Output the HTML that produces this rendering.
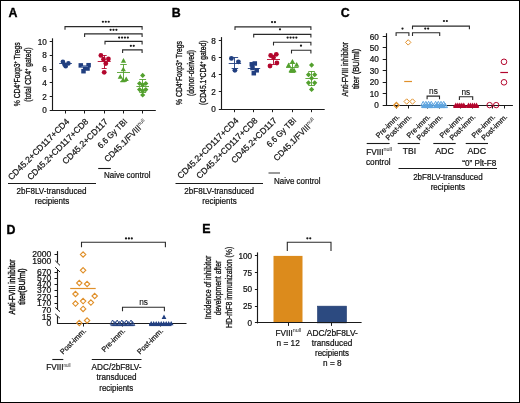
<!DOCTYPE html>
<html><head><meta charset="utf-8"><style>
html,body{margin:0;padding:0;background:#fff;}
#fig{position:relative;width:520px;height:403px;overflow:hidden;background:#fff;}
#fig svg{position:absolute;left:0;top:0;font-family:"Liberation Sans", sans-serif;will-change:transform;}
#border{position:absolute;left:0;top:0;width:518px;height:401px;border:1px solid #000;}
</style></head><body>
<div id="fig">
<svg width="520" height="403" viewBox="0 0 520 403">
<text x="8.40" y="16.60" font-size="12.4" text-anchor="start" font-weight="bold" fill="#000" stroke="#000" stroke-width="0.35">A</text>
<text x="171.80" y="17.00" font-size="12.4" text-anchor="start" font-weight="bold" fill="#000" stroke="#000" stroke-width="0.35">B</text>
<text x="340.80" y="17.20" font-size="12.4" text-anchor="start" font-weight="bold" fill="#000" stroke="#000" stroke-width="0.35">C</text>
<text x="6.60" y="233.60" font-size="12.4" text-anchor="start" font-weight="bold" fill="#000" stroke="#000" stroke-width="0.35">D</text>
<text x="202.30" y="233.20" font-size="12.4" text-anchor="start" font-weight="bold" fill="#000" stroke="#000" stroke-width="0.35">E</text>
<line x1="52.50" y1="38.30" x2="52.50" y2="110.80" stroke="#1a1a1a" stroke-width="1.15"/>
<line x1="52.20" y1="110.50" x2="155.80" y2="110.50" stroke="#1a1a1a" stroke-width="1.15"/>
<line x1="49.70" y1="110.50" x2="52.70" y2="110.50" stroke="#1a1a1a" stroke-width="1"/>
<text x="46.80" y="113.30" font-size="8.2" text-anchor="end" font-weight="normal" fill="#111" stroke="#111" stroke-width="0.22">0</text>
<line x1="49.70" y1="96.50" x2="52.70" y2="96.50" stroke="#1a1a1a" stroke-width="1"/>
<text x="46.80" y="99.54" font-size="8.2" text-anchor="end" font-weight="normal" fill="#111" stroke="#111" stroke-width="0.22">2</text>
<line x1="49.70" y1="82.50" x2="52.70" y2="82.50" stroke="#1a1a1a" stroke-width="1"/>
<text x="46.80" y="85.78" font-size="8.2" text-anchor="end" font-weight="normal" fill="#111" stroke="#111" stroke-width="0.22">4</text>
<line x1="49.70" y1="69.50" x2="52.70" y2="69.50" stroke="#1a1a1a" stroke-width="1"/>
<text x="46.80" y="72.02" font-size="8.2" text-anchor="end" font-weight="normal" fill="#111" stroke="#111" stroke-width="0.22">6</text>
<line x1="49.70" y1="55.50" x2="52.70" y2="55.50" stroke="#1a1a1a" stroke-width="1"/>
<text x="46.80" y="58.26" font-size="8.2" text-anchor="end" font-weight="normal" fill="#111" stroke="#111" stroke-width="0.22">8</text>
<line x1="49.70" y1="41.50" x2="52.70" y2="41.50" stroke="#1a1a1a" stroke-width="1"/>
<text x="46.80" y="44.50" font-size="8.2" text-anchor="end" font-weight="normal" fill="#111" stroke="#111" stroke-width="0.22">10</text>
<line x1="65.50" y1="110.30" x2="65.50" y2="113.50" stroke="#1a1a1a" stroke-width="1"/>
<line x1="84.50" y1="110.30" x2="84.50" y2="113.50" stroke="#1a1a1a" stroke-width="1"/>
<line x1="104.50" y1="110.30" x2="104.50" y2="113.50" stroke="#1a1a1a" stroke-width="1"/>
<line x1="123.50" y1="110.30" x2="123.50" y2="113.50" stroke="#1a1a1a" stroke-width="1"/>
<line x1="142.50" y1="110.30" x2="142.50" y2="113.50" stroke="#1a1a1a" stroke-width="1"/>
<text transform="translate(19.60,74.30) rotate(-90)" font-size="9.4" text-anchor="middle" font-weight="normal" fill="#111" textLength="63.8" lengthAdjust="spacingAndGlyphs" stroke="#111" stroke-width="0.32">% CD4<tspan font-size="5.5" dy="-3">+</tspan><tspan dy="3">Foxp3</tspan><tspan font-size="5.5" dy="-3">+</tspan><tspan dy="3"> Tregs</tspan></text>
<text transform="translate(30.60,74.60) rotate(-90)" font-size="9.4" text-anchor="middle" font-weight="normal" fill="#111" textLength="54.3" lengthAdjust="spacingAndGlyphs" stroke="#111" stroke-width="0.32">(total CD4<tspan font-size="5.5" dy="-3">+</tspan><tspan dy="3"> gated)</tspan></text>
<path d="M65.00,29.80V26.60H142.10V29.80" fill="none" stroke="#2a2a2a" stroke-width="1.1"/>
<circle cx="102.90" cy="21.75" r="1.12" fill="#1a1a1a"/>
<circle cx="105.80" cy="21.75" r="1.12" fill="#1a1a1a"/>
<circle cx="108.70" cy="21.75" r="1.12" fill="#1a1a1a"/>
<path d="M84.60,37.10V33.90H142.10V37.10" fill="none" stroke="#2a2a2a" stroke-width="1.1"/>
<circle cx="110.60" cy="29.80" r="1.12" fill="#1a1a1a"/>
<circle cx="113.50" cy="29.80" r="1.12" fill="#1a1a1a"/>
<circle cx="116.40" cy="29.80" r="1.12" fill="#1a1a1a"/>
<path d="M105.00,44.60V41.40H142.10V44.60" fill="none" stroke="#2a2a2a" stroke-width="1.1"/>
<circle cx="119.15" cy="37.60" r="1.12" fill="#1a1a1a"/>
<circle cx="122.05" cy="37.60" r="1.12" fill="#1a1a1a"/>
<circle cx="124.95" cy="37.60" r="1.12" fill="#1a1a1a"/>
<circle cx="127.85" cy="37.60" r="1.12" fill="#1a1a1a"/>
<path d="M122.60,53.10V49.90H142.10V53.10" fill="none" stroke="#2a2a2a" stroke-width="1.1"/>
<circle cx="130.85" cy="45.80" r="1.12" fill="#1a1a1a"/>
<circle cx="133.75" cy="45.80" r="1.12" fill="#1a1a1a"/>
<circle cx="62.9" cy="61.7" r="2.3" fill="#213f80"/>
<circle cx="68.4" cy="63.4" r="2.3" fill="#213f80"/>
<circle cx="65.7" cy="66.2" r="2.3" fill="#213f80"/>
<circle cx="64.5" cy="64.5" r="2.3" fill="#213f80"/>
<line x1="59.20" y1="63.50" x2="71.90" y2="63.50" stroke="#213f80" stroke-width="0.9"/>
<rect x="78.55" y="63.15" width="4.5" height="4.5" fill="#213f80"/>
<rect x="86.35" y="62.95" width="4.5" height="4.5" fill="#213f80"/>
<rect x="82.95" y="65.45" width="4.5" height="4.5" fill="#213f80"/>
<rect x="81.25" y="68.95" width="4.5" height="4.5" fill="#213f80"/>
<rect x="85.25" y="66.25" width="4.5" height="4.5" fill="#213f80"/>
<line x1="81.50" y1="66.50" x2="88.00" y2="66.50" stroke="#6d86b8" stroke-width="0.8"/>
<circle cx="100.9" cy="55.4" r="2.4" fill="#b3062d"/>
<circle cx="108.4" cy="59.0" r="2.4" fill="#b3062d"/>
<circle cx="103.5" cy="59.2" r="2.4" fill="#b3062d"/>
<circle cx="105.8" cy="63.5" r="2.4" fill="#b3062d"/>
<circle cx="104.2" cy="72.3" r="2.4" fill="#b3062d"/>
<line x1="97.70" y1="61.50" x2="110.70" y2="61.50" stroke="#b3062d" stroke-width="0.9"/>
<line x1="104.50" y1="55.40" x2="104.50" y2="68.50" stroke="#b3062d" stroke-width="0.9"/>
<line x1="101.70" y1="55.50" x2="106.70" y2="55.50" stroke="#b3062d" stroke-width="0.9"/>
<line x1="101.70" y1="68.50" x2="106.70" y2="68.50" stroke="#b3062d" stroke-width="0.9"/>
<polygon points="123.50,57.99 126.10,62.67 120.90,62.67" fill="#53a02e"/>
<polygon points="123.30,66.69 125.90,71.37 120.70,71.37" fill="#53a02e"/>
<polygon points="120.30,73.99 122.90,78.67 117.70,78.67" fill="#53a02e"/>
<polygon points="126.20,76.39 128.80,81.07 123.60,81.07" fill="#53a02e"/>
<polygon points="122.90,77.49 125.50,82.17 120.30,82.17" fill="#53a02e"/>
<line x1="117.00" y1="72.50" x2="130.00" y2="72.50" stroke="#53a02e" stroke-width="0.9"/>
<line x1="123.50" y1="64.40" x2="123.50" y2="81.30" stroke="#53a02e" stroke-width="0.9"/>
<line x1="120.25" y1="64.50" x2="126.75" y2="64.50" stroke="#53a02e" stroke-width="0.9"/>
<line x1="120.25" y1="81.50" x2="126.75" y2="81.50" stroke="#53a02e" stroke-width="0.9"/>
<polygon points="142.70,72.80 145.30,75.40 142.70,78.00 140.10,75.40" fill="#53a02e"/>
<polygon points="139.60,80.90 142.20,83.50 139.60,86.10 137.00,83.50" fill="#53a02e"/>
<polygon points="145.80,80.90 148.40,83.50 145.80,86.10 143.20,83.50" fill="#53a02e"/>
<polygon points="142.70,82.20 145.30,84.80 142.70,87.40 140.10,84.80" fill="#53a02e"/>
<polygon points="139.60,87.00 142.20,89.60 139.60,92.20 137.00,89.60" fill="#53a02e"/>
<polygon points="145.80,87.00 148.40,89.60 145.80,92.20 143.20,89.60" fill="#53a02e"/>
<polygon points="142.70,88.20 145.30,90.80 142.70,93.40 140.10,90.80" fill="#53a02e"/>
<polygon points="142.70,92.40 145.30,95.00 142.70,97.60 140.10,95.00" fill="#53a02e"/>
<line x1="136.40" y1="86.50" x2="149.00" y2="86.50" stroke="#53a02e" stroke-width="0.9"/>
<line x1="142.50" y1="79.60" x2="142.50" y2="92.50" stroke="#53a02e" stroke-width="0.9"/>
<line x1="139.30" y1="79.50" x2="146.10" y2="79.50" stroke="#53a02e" stroke-width="0.9"/>
<line x1="139.30" y1="92.50" x2="146.10" y2="92.50" stroke="#53a02e" stroke-width="0.9"/>
<text transform="translate(69.80,122.20) rotate(-45)" font-size="8.6" text-anchor="end" font-weight="normal" fill="#111" stroke="#111" stroke-width="0.22">CD45.2+CD117+CD4</text>
<text transform="translate(89.00,122.20) rotate(-45)" font-size="8.6" text-anchor="end" font-weight="normal" fill="#111" stroke="#111" stroke-width="0.22">CD45.2+CD117+CD8</text>
<text transform="translate(108.50,122.20) rotate(-45)" font-size="8.6" text-anchor="end" font-weight="normal" fill="#111" stroke="#111" stroke-width="0.22">CD45.2+CD117</text>
<text transform="translate(127.70,122.20) rotate(-45)" font-size="8.6" text-anchor="end" font-weight="normal" fill="#111" textLength="37.8" lengthAdjust="spacingAndGlyphs" stroke="#111" stroke-width="0.22">6.6 Gy TBI</text>
<text transform="translate(147.40,123.00) rotate(-45)" font-size="8.6" text-anchor="end" font-weight="normal" fill="#111" textLength="56" lengthAdjust="spacingAndGlyphs" stroke="#111" stroke-width="0.22">CD45.1/FVIII<tspan font-size="5.4" dy="-3.4" stroke-width="0.05" fill="#444">null</tspan></text>
<line x1="8.00" y1="183.50" x2="96.00" y2="183.50" stroke="#1a1a1a" stroke-width="1.1"/>
<text x="51.50" y="194.30" font-size="8.5" text-anchor="middle" font-weight="normal" fill="#111" textLength="69.8" lengthAdjust="spacingAndGlyphs" stroke="#111" stroke-width="0.22">2bF8LV-transduced</text>
<text x="52.00" y="203.80" font-size="8.5" text-anchor="middle" font-weight="normal" fill="#111" textLength="34.5" lengthAdjust="spacingAndGlyphs" stroke="#111" stroke-width="0.22">recipients</text>
<line x1="98.20" y1="168.50" x2="110.80" y2="168.50" stroke="#1a1a1a" stroke-width="1.1"/>
<text x="104.00" y="177.70" font-size="8.5" text-anchor="start" font-weight="normal" fill="#111" textLength="46.5" lengthAdjust="spacingAndGlyphs" stroke="#111" stroke-width="0.22">Naive control</text>
<line x1="221.50" y1="37.10" x2="221.50" y2="109.50" stroke="#1a1a1a" stroke-width="1.15"/>
<line x1="221.30" y1="109.50" x2="324.70" y2="109.50" stroke="#1a1a1a" stroke-width="1.15"/>
<line x1="218.80" y1="109.50" x2="221.80" y2="109.50" stroke="#1a1a1a" stroke-width="1"/>
<text x="215.90" y="112.00" font-size="8.2" text-anchor="end" font-weight="normal" fill="#111" stroke="#111" stroke-width="0.22">0</text>
<line x1="218.80" y1="91.50" x2="221.80" y2="91.50" stroke="#1a1a1a" stroke-width="1"/>
<text x="215.90" y="94.90" font-size="8.2" text-anchor="end" font-weight="normal" fill="#111" stroke="#111" stroke-width="0.22">2</text>
<line x1="218.80" y1="74.50" x2="221.80" y2="74.50" stroke="#1a1a1a" stroke-width="1"/>
<text x="215.90" y="77.80" font-size="8.2" text-anchor="end" font-weight="normal" fill="#111" stroke="#111" stroke-width="0.22">4</text>
<line x1="218.80" y1="57.50" x2="221.80" y2="57.50" stroke="#1a1a1a" stroke-width="1"/>
<text x="215.90" y="60.70" font-size="8.2" text-anchor="end" font-weight="normal" fill="#111" stroke="#111" stroke-width="0.22">6</text>
<line x1="218.80" y1="40.50" x2="221.80" y2="40.50" stroke="#1a1a1a" stroke-width="1"/>
<text x="215.90" y="43.60" font-size="8.2" text-anchor="end" font-weight="normal" fill="#111" stroke="#111" stroke-width="0.22">8</text>
<line x1="234.50" y1="109.00" x2="234.50" y2="112.20" stroke="#1a1a1a" stroke-width="1"/>
<line x1="253.50" y1="109.00" x2="253.50" y2="112.20" stroke="#1a1a1a" stroke-width="1"/>
<line x1="272.50" y1="109.00" x2="272.50" y2="112.20" stroke="#1a1a1a" stroke-width="1"/>
<line x1="292.50" y1="109.00" x2="292.50" y2="112.20" stroke="#1a1a1a" stroke-width="1"/>
<line x1="311.50" y1="109.00" x2="311.50" y2="112.20" stroke="#1a1a1a" stroke-width="1"/>
<text transform="translate(182.40,73.00) rotate(-90)" font-size="9.4" text-anchor="middle" font-weight="normal" fill="#111" textLength="63.9" lengthAdjust="spacingAndGlyphs" stroke="#111" stroke-width="0.32">% CD4<tspan font-size="5.5" dy="-3">+</tspan><tspan dy="3">Foxp3</tspan><tspan font-size="5.5" dy="-3">+</tspan><tspan dy="3"> Tregs</tspan></text>
<text transform="translate(193.80,73.00) rotate(-90)" font-size="9.4" text-anchor="middle" font-weight="normal" fill="#111" textLength="46" lengthAdjust="spacingAndGlyphs" stroke="#111" stroke-width="0.32">(donor-derived)</text>
<text transform="translate(205.80,72.70) rotate(-90)" font-size="9.4" text-anchor="middle" font-weight="normal" fill="#111" textLength="64.4" lengthAdjust="spacingAndGlyphs" stroke="#111" stroke-width="0.32">(CD45.1<tspan font-size="5.5" dy="-3">+</tspan><tspan dy="3">CD4</tspan><tspan font-size="5.5" dy="-3">+</tspan><tspan dy="3"> gated)</tspan></text>
<path d="M235.00,30.10V26.90H310.90V30.10" fill="none" stroke="#2a2a2a" stroke-width="1.1"/>
<circle cx="272.05" cy="22.10" r="1.12" fill="#1a1a1a"/>
<circle cx="274.95" cy="22.10" r="1.12" fill="#1a1a1a"/>
<path d="M253.70,37.60V34.40H310.90V37.60" fill="none" stroke="#2a2a2a" stroke-width="1.1"/>
<circle cx="280.00" cy="29.30" r="1.12" fill="#1a1a1a"/>
<path d="M273.50,45.50V42.30H310.90V45.50" fill="none" stroke="#2a2a2a" stroke-width="1.1"/>
<circle cx="287.65" cy="37.60" r="1.12" fill="#1a1a1a"/>
<circle cx="290.55" cy="37.60" r="1.12" fill="#1a1a1a"/>
<circle cx="293.45" cy="37.60" r="1.12" fill="#1a1a1a"/>
<circle cx="296.35" cy="37.60" r="1.12" fill="#1a1a1a"/>
<path d="M291.50,53.50V50.30H310.90V53.50" fill="none" stroke="#2a2a2a" stroke-width="1.1"/>
<circle cx="301.00" cy="45.70" r="1.12" fill="#1a1a1a"/>
<circle cx="231.4" cy="58.4" r="2.4" fill="#213f80"/>
<circle cx="238.4" cy="61.8" r="2.4" fill="#213f80"/>
<circle cx="234.9" cy="70.3" r="2.4" fill="#213f80"/>
<line x1="228.70" y1="63.50" x2="241.10" y2="63.50" stroke="#213f80" stroke-width="0.9"/>
<line x1="234.50" y1="57.40" x2="234.50" y2="68.00" stroke="#213f80" stroke-width="0.9"/>
<line x1="231.65" y1="57.50" x2="238.15" y2="57.50" stroke="#213f80" stroke-width="0.9"/>
<line x1="231.65" y1="68.50" x2="238.15" y2="68.50" stroke="#213f80" stroke-width="0.9"/>
<rect x="249.55" y="62.05" width="4.5" height="4.5" fill="#213f80"/>
<rect x="252.55" y="61.25" width="4.5" height="4.5" fill="#213f80"/>
<rect x="254.45" y="68.05" width="4.5" height="4.5" fill="#213f80"/>
<rect x="251.55" y="70.95" width="4.5" height="4.5" fill="#213f80"/>
<rect x="250.25" y="65.75" width="4.5" height="4.5" fill="#213f80"/>
<line x1="247.80" y1="68.50" x2="260.20" y2="68.50" stroke="#213f80" stroke-width="0.9"/>
<circle cx="270.7" cy="55.5" r="2.4" fill="#b3062d"/>
<circle cx="276.3" cy="54.3" r="2.4" fill="#b3062d"/>
<circle cx="273.5" cy="57.5" r="2.4" fill="#b3062d"/>
<circle cx="276.9" cy="63" r="2.4" fill="#b3062d"/>
<circle cx="270" cy="66" r="2.4" fill="#b3062d"/>
<line x1="267.00" y1="59.50" x2="280.00" y2="59.50" stroke="#b3062d" stroke-width="0.9"/>
<line x1="273.50" y1="55.00" x2="273.50" y2="64.00" stroke="#b3062d" stroke-width="0.9"/>
<line x1="271.00" y1="55.50" x2="276.00" y2="55.50" stroke="#b3062d" stroke-width="0.9"/>
<line x1="271.00" y1="64.50" x2="276.00" y2="64.50" stroke="#b3062d" stroke-width="0.9"/>
<polygon points="292.40,58.89 295.00,63.57 289.80,63.57" fill="#53a02e"/>
<polygon points="288.60,62.59 291.20,67.27 286.00,67.27" fill="#53a02e"/>
<polygon points="296.70,61.99 299.30,66.67 294.10,66.67" fill="#53a02e"/>
<polygon points="291.10,67.59 293.70,72.27 288.50,72.27" fill="#53a02e"/>
<polygon points="294.00,67.59 296.60,72.27 291.40,72.27" fill="#53a02e"/>
<line x1="286.05" y1="67.50" x2="298.55" y2="67.50" stroke="#53a02e" stroke-width="0.9"/>
<line x1="292.50" y1="63.00" x2="292.50" y2="72.00" stroke="#53a02e" stroke-width="0.9"/>
<line x1="289.30" y1="63.50" x2="295.30" y2="63.50" stroke="#53a02e" stroke-width="0.9"/>
<line x1="289.30" y1="72.50" x2="295.30" y2="72.50" stroke="#53a02e" stroke-width="0.9"/>
<polygon points="311.60,62.50 314.20,65.10 311.60,67.70 309.00,65.10" fill="#53a02e"/>
<polygon points="308.50,72.10 311.10,74.70 308.50,77.30 305.90,74.70" fill="#53a02e"/>
<polygon points="314.70,72.10 317.30,74.70 314.70,77.30 312.10,74.70" fill="#53a02e"/>
<polygon points="311.60,75.60 314.20,78.20 311.60,80.80 309.00,78.20" fill="#53a02e"/>
<polygon points="308.50,80.20 311.10,82.80 308.50,85.40 305.90,82.80" fill="#53a02e"/>
<polygon points="314.70,80.20 317.30,82.80 314.70,85.40 312.10,82.80" fill="#53a02e"/>
<polygon points="311.60,86.80 314.20,89.40 311.60,92.00 309.00,89.40" fill="#53a02e"/>
<line x1="305.40" y1="78.50" x2="317.80" y2="78.50" stroke="#53a02e" stroke-width="0.9"/>
<line x1="311.50" y1="71.00" x2="311.50" y2="85.90" stroke="#53a02e" stroke-width="0.9"/>
<line x1="308.35" y1="71.50" x2="314.85" y2="71.50" stroke="#53a02e" stroke-width="0.9"/>
<line x1="308.35" y1="85.50" x2="314.85" y2="85.50" stroke="#53a02e" stroke-width="0.9"/>
<text transform="translate(239.10,121.00) rotate(-45)" font-size="8.6" text-anchor="end" font-weight="normal" fill="#111" stroke="#111" stroke-width="0.22">CD45.2+CD117+CD4</text>
<text transform="translate(258.20,121.00) rotate(-45)" font-size="8.6" text-anchor="end" font-weight="normal" fill="#111" stroke="#111" stroke-width="0.22">CD45.2+CD117+CD8</text>
<text transform="translate(277.30,121.00) rotate(-45)" font-size="8.6" text-anchor="end" font-weight="normal" fill="#111" stroke="#111" stroke-width="0.22">CD45.2+CD117</text>
<text transform="translate(296.70,121.00) rotate(-45)" font-size="8.6" text-anchor="end" font-weight="normal" fill="#111" textLength="37.8" lengthAdjust="spacingAndGlyphs" stroke="#111" stroke-width="0.22">6.6 Gy TBI</text>
<text transform="translate(316.60,121.80) rotate(-45)" font-size="8.6" text-anchor="end" font-weight="normal" fill="#111" textLength="56" lengthAdjust="spacingAndGlyphs" stroke="#111" stroke-width="0.22">CD45.1/FVIII<tspan font-size="5.4" dy="-3.4" stroke-width="0.05" fill="#444">null</tspan></text>
<line x1="175.50" y1="183.50" x2="263.00" y2="183.50" stroke="#1a1a1a" stroke-width="1.1"/>
<text x="219.20" y="194.00" font-size="8.5" text-anchor="middle" font-weight="normal" fill="#111" textLength="69.8" lengthAdjust="spacingAndGlyphs" stroke="#111" stroke-width="0.22">2bF8LV-transduced</text>
<text x="219.60" y="203.60" font-size="8.5" text-anchor="middle" font-weight="normal" fill="#111" textLength="34.5" lengthAdjust="spacingAndGlyphs" stroke="#111" stroke-width="0.22">recipients</text>
<line x1="268.50" y1="173.00" x2="280.00" y2="173.00" stroke="#777" stroke-width="1.5"/>
<text x="274.00" y="183.60" font-size="8.5" text-anchor="start" font-weight="normal" fill="#111" textLength="46.5" lengthAdjust="spacingAndGlyphs" stroke="#111" stroke-width="0.22">Naive control</text>
<line x1="386.50" y1="33.20" x2="386.50" y2="105.80" stroke="#1a1a1a" stroke-width="1.15"/>
<line x1="385.90" y1="105.50" x2="512.90" y2="105.50" stroke="#1a1a1a" stroke-width="1.15"/>
<line x1="382.70" y1="105.50" x2="386.40" y2="105.50" stroke="#1a1a1a" stroke-width="1"/>
<text x="378.80" y="108.30" font-size="8.2" text-anchor="end" font-weight="normal" fill="#111" stroke="#111" stroke-width="0.22">0</text>
<line x1="382.70" y1="93.50" x2="386.40" y2="93.50" stroke="#1a1a1a" stroke-width="1"/>
<text x="378.80" y="96.83" font-size="8.2" text-anchor="end" font-weight="normal" fill="#111" stroke="#111" stroke-width="0.22">10</text>
<line x1="382.70" y1="82.50" x2="386.40" y2="82.50" stroke="#1a1a1a" stroke-width="1"/>
<text x="378.80" y="85.37" font-size="8.2" text-anchor="end" font-weight="normal" fill="#111" stroke="#111" stroke-width="0.22">20</text>
<line x1="382.70" y1="70.50" x2="386.40" y2="70.50" stroke="#1a1a1a" stroke-width="1"/>
<text x="378.80" y="73.90" font-size="8.2" text-anchor="end" font-weight="normal" fill="#111" stroke="#111" stroke-width="0.22">30</text>
<line x1="382.70" y1="59.50" x2="386.40" y2="59.50" stroke="#1a1a1a" stroke-width="1"/>
<text x="378.80" y="62.43" font-size="8.2" text-anchor="end" font-weight="normal" fill="#111" stroke="#111" stroke-width="0.22">40</text>
<line x1="382.70" y1="47.50" x2="386.40" y2="47.50" stroke="#1a1a1a" stroke-width="1"/>
<text x="378.80" y="50.97" font-size="8.2" text-anchor="end" font-weight="normal" fill="#111" stroke="#111" stroke-width="0.22">50</text>
<line x1="382.70" y1="36.50" x2="386.40" y2="36.50" stroke="#1a1a1a" stroke-width="1"/>
<text x="378.80" y="39.50" font-size="8.2" text-anchor="end" font-weight="normal" fill="#111" stroke="#111" stroke-width="0.22">60</text>
<line x1="396.50" y1="105.30" x2="396.50" y2="108.50" stroke="#1a1a1a" stroke-width="1"/>
<line x1="408.50" y1="105.30" x2="408.50" y2="108.50" stroke="#1a1a1a" stroke-width="1"/>
<line x1="427.50" y1="105.30" x2="427.50" y2="108.50" stroke="#1a1a1a" stroke-width="1"/>
<line x1="439.50" y1="105.30" x2="439.50" y2="108.50" stroke="#1a1a1a" stroke-width="1"/>
<line x1="460.50" y1="105.30" x2="460.50" y2="108.50" stroke="#1a1a1a" stroke-width="1"/>
<line x1="472.50" y1="105.30" x2="472.50" y2="108.50" stroke="#1a1a1a" stroke-width="1"/>
<line x1="492.50" y1="105.30" x2="492.50" y2="108.50" stroke="#1a1a1a" stroke-width="1"/>
<line x1="504.50" y1="105.30" x2="504.50" y2="108.50" stroke="#1a1a1a" stroke-width="1"/>
<text transform="translate(348.00,69.20) rotate(-90)" font-size="9.4" text-anchor="middle" font-weight="normal" fill="#111" textLength="54.4" lengthAdjust="spacingAndGlyphs" stroke="#111" stroke-width="0.32">Anti-FVIII inhibitor</text>
<text transform="translate(358.80,68.90) rotate(-90)" font-size="9.4" text-anchor="middle" font-weight="normal" fill="#111" textLength="40.2" lengthAdjust="spacingAndGlyphs" stroke="#111" stroke-width="0.32">titer (BU/ml)</text>
<path d="M396.10,36.00V32.80H408.90V36.00" fill="none" stroke="#2a2a2a" stroke-width="1.1"/>
<circle cx="402.50" cy="28.60" r="1.12" fill="#1a1a1a"/>
<path d="M412.50,36.00V32.80H439.70V36.00" fill="none" stroke="#2a2a2a" stroke-width="1.1"/>
<circle cx="425.25" cy="28.60" r="1.12" fill="#1a1a1a"/>
<circle cx="428.15" cy="28.60" r="1.12" fill="#1a1a1a"/>
<path d="M412.50,29.30V26.10H469.40V29.30" fill="none" stroke="#2a2a2a" stroke-width="1.1"/>
<circle cx="443.95" cy="21.00" r="1.12" fill="#1a1a1a"/>
<circle cx="446.85" cy="21.00" r="1.12" fill="#1a1a1a"/>
<path d="M427.10,99.30V96.10H439.50V99.30" fill="none" stroke="#2a2a2a" stroke-width="1.1"/>
<text x="433.50" y="94.20" font-size="8.3" text-anchor="middle" font-weight="normal" fill="#111" stroke="#111" stroke-width="0.12">ns</text>
<path d="M459.40,99.90V96.70H472.70V99.90" fill="none" stroke="#2a2a2a" stroke-width="1.1"/>
<text x="465.80" y="94.80" font-size="8.3" text-anchor="middle" font-weight="normal" fill="#111" stroke="#111" stroke-width="0.12">ns</text>
<polygon points="396.40,102.50 399.10,105.20 396.40,107.90 393.70,105.20" fill="none" stroke="#e0902a" stroke-width="1.3"/>
<polygon points="408.20,39.70 410.90,42.40 408.20,45.10 405.50,42.40" fill="none" stroke="#e0902a" stroke-width="1"/>
<polygon points="406.70,98.80 409.40,101.50 406.70,104.20 404.00,101.50" fill="none" stroke="#e0902a" stroke-width="1"/>
<polygon points="412.50,98.80 415.20,101.50 412.50,104.20 409.80,101.50" fill="none" stroke="#e0902a" stroke-width="1"/>
<line x1="404.20" y1="81.50" x2="412.00" y2="81.50" stroke="#e0902a" stroke-width="1.2"/>
<polygon points="423.20,101.30 425.70,105.80 420.70,105.80" fill="none" stroke="#5fa5e0" stroke-width="1.0"/>
<polygon points="425.90,101.30 428.40,105.80 423.40,105.80" fill="none" stroke="#5fa5e0" stroke-width="1.0"/>
<polygon points="428.60,101.30 431.10,105.80 426.10,105.80" fill="none" stroke="#5fa5e0" stroke-width="1.0"/>
<polygon points="431.30,101.30 433.80,105.80 428.80,105.80" fill="none" stroke="#5fa5e0" stroke-width="1.0"/>
<polygon points="424.50,103.10 427.00,107.60 422.00,107.60" fill="none" stroke="#5fa5e0" stroke-width="1.0"/>
<polygon points="427.20,103.10 429.70,107.60 424.70,107.60" fill="none" stroke="#5fa5e0" stroke-width="1.0"/>
<polygon points="429.90,103.10 432.40,107.60 427.40,107.60" fill="none" stroke="#5fa5e0" stroke-width="1.0"/>
<polygon points="432.60,103.10 435.10,107.60 430.10,107.60" fill="none" stroke="#5fa5e0" stroke-width="1.0"/>
<polygon points="423.20,103.52 425.50,107.66 420.90,107.66" fill="#5fa5e0"/>
<polygon points="425.90,103.52 428.20,107.66 423.60,107.66" fill="#5fa5e0"/>
<polygon points="428.60,103.52 430.90,107.66 426.30,107.66" fill="#5fa5e0"/>
<polygon points="431.30,103.52 433.60,107.66 429.00,107.66" fill="#5fa5e0"/>
<polygon points="435.60,101.30 438.10,105.80 433.10,105.80" fill="none" stroke="#5fa5e0" stroke-width="1.0"/>
<polygon points="438.30,101.30 440.80,105.80 435.80,105.80" fill="none" stroke="#5fa5e0" stroke-width="1.0"/>
<polygon points="441.00,101.30 443.50,105.80 438.50,105.80" fill="none" stroke="#5fa5e0" stroke-width="1.0"/>
<polygon points="443.70,101.30 446.20,105.80 441.20,105.80" fill="none" stroke="#5fa5e0" stroke-width="1.0"/>
<polygon points="436.90,103.10 439.40,107.60 434.40,107.60" fill="none" stroke="#5fa5e0" stroke-width="1.0"/>
<polygon points="439.60,103.10 442.10,107.60 437.10,107.60" fill="none" stroke="#5fa5e0" stroke-width="1.0"/>
<polygon points="442.30,103.10 444.80,107.60 439.80,107.60" fill="none" stroke="#5fa5e0" stroke-width="1.0"/>
<polygon points="445.00,103.10 447.50,107.60 442.50,107.60" fill="none" stroke="#5fa5e0" stroke-width="1.0"/>
<polygon points="435.60,103.52 437.90,107.66 433.30,107.66" fill="#5fa5e0"/>
<polygon points="438.30,103.52 440.60,107.66 436.00,107.66" fill="#5fa5e0"/>
<polygon points="441.00,103.52 443.30,107.66 438.70,107.66" fill="#5fa5e0"/>
<polygon points="443.70,103.52 446.00,107.66 441.40,107.66" fill="#5fa5e0"/>
<polygon points="455.80,102.58 458.60,107.62 453.00,107.62" fill="#b3062d"/>
<polygon points="457.80,102.58 460.60,107.62 455.00,107.62" fill="#b3062d"/>
<polygon points="459.80,102.58 462.60,107.62 457.00,107.62" fill="#b3062d"/>
<polygon points="461.80,102.58 464.60,107.62 459.00,107.62" fill="#b3062d"/>
<polygon points="463.80,102.58 466.60,107.62 461.00,107.62" fill="#b3062d"/>
<rect x="453.60" y="105.4" width="12.4" height="2.6" fill="#b3062d"/>
<polygon points="468.50,102.58 471.30,107.62 465.70,107.62" fill="#b3062d"/>
<polygon points="470.50,102.58 473.30,107.62 467.70,107.62" fill="#b3062d"/>
<polygon points="472.50,102.58 475.30,107.62 469.70,107.62" fill="#b3062d"/>
<polygon points="474.50,102.58 477.30,107.62 471.70,107.62" fill="#b3062d"/>
<polygon points="476.50,102.58 479.30,107.62 473.70,107.62" fill="#b3062d"/>
<rect x="466.30" y="105.4" width="12.4" height="2.6" fill="#b3062d"/>
<circle cx="489.6" cy="105.1" r="2.7" fill="none" stroke="#b3062d" stroke-width="1"/>
<circle cx="496.2" cy="105.1" r="2.7" fill="none" stroke="#b3062d" stroke-width="1"/>
<circle cx="504" cy="61.8" r="2.8" fill="none" stroke="#b3062d" stroke-width="1"/>
<circle cx="504" cy="82.3" r="2.8" fill="none" stroke="#b3062d" stroke-width="1"/>
<line x1="500.30" y1="72.50" x2="508.00" y2="72.50" stroke="#b3062d" stroke-width="1.2"/>
<text transform="translate(400.00,117.30) rotate(-45)" font-size="7.4" text-anchor="end" font-weight="normal" fill="#111" stroke="#111" stroke-width="0.22">Pre-imm.</text>
<text transform="translate(412.00,117.30) rotate(-45)" font-size="7.4" text-anchor="end" font-weight="normal" fill="#111" stroke="#111" stroke-width="0.22">Post-imm.</text>
<text transform="translate(430.80,117.30) rotate(-45)" font-size="7.4" text-anchor="end" font-weight="normal" fill="#111" stroke="#111" stroke-width="0.22">Pre-imm.</text>
<text transform="translate(443.00,117.30) rotate(-45)" font-size="7.4" text-anchor="end" font-weight="normal" fill="#111" stroke="#111" stroke-width="0.22">Post-imm.</text>
<text transform="translate(463.60,117.30) rotate(-45)" font-size="7.4" text-anchor="end" font-weight="normal" fill="#111" stroke="#111" stroke-width="0.22">Pre-imm.</text>
<text transform="translate(475.90,117.30) rotate(-45)" font-size="7.4" text-anchor="end" font-weight="normal" fill="#111" stroke="#111" stroke-width="0.22">Post-imm.</text>
<text transform="translate(495.60,117.30) rotate(-45)" font-size="7.4" text-anchor="end" font-weight="normal" fill="#111" stroke="#111" stroke-width="0.22">Pre-imm.</text>
<text transform="translate(507.80,117.30) rotate(-45)" font-size="7.4" text-anchor="end" font-weight="normal" fill="#111" stroke="#111" stroke-width="0.22">Post-imm.</text>
<line x1="366.70" y1="143.50" x2="389.60" y2="143.50" stroke="#1a1a1a" stroke-width="1.1"/>
<line x1="397.70" y1="143.50" x2="419.80" y2="143.50" stroke="#1a1a1a" stroke-width="1.1"/>
<line x1="433.30" y1="143.50" x2="455.70" y2="143.50" stroke="#1a1a1a" stroke-width="1.1"/>
<line x1="465.70" y1="143.50" x2="488.00" y2="143.50" stroke="#1a1a1a" stroke-width="1.1"/>
<text x="366.30" y="154.70" font-size="8.2" text-anchor="start" font-weight="normal" fill="#111" stroke="#111" stroke-width="0.22">FVIII<tspan font-size="5.4" dy="-3.4" stroke-width="0.05" fill="#444">null</tspan></text>
<text x="366.00" y="164.80" font-size="8.5" text-anchor="start" font-weight="normal" fill="#111" textLength="24.6" lengthAdjust="spacingAndGlyphs" stroke="#111" stroke-width="0.22">control</text>
<text x="409.40" y="154.00" font-size="8.5" text-anchor="middle" font-weight="normal" fill="#111" stroke="#111" stroke-width="0.22">TBI</text>
<text x="444.50" y="154.00" font-size="8.5" text-anchor="middle" font-weight="normal" fill="#111" textLength="18.6" lengthAdjust="spacingAndGlyphs" stroke="#111" stroke-width="0.22">ADC</text>
<text x="476.80" y="154.00" font-size="8.5" text-anchor="middle" font-weight="normal" fill="#111" textLength="18.6" lengthAdjust="spacingAndGlyphs" stroke="#111" stroke-width="0.22">ADC</text>
<text x="479.30" y="165.60" font-size="8.5" text-anchor="middle" font-weight="normal" fill="#111" textLength="34" lengthAdjust="spacingAndGlyphs" stroke="#111" stroke-width="0.22">“0” Plt-F8</text>
<line x1="398.50" y1="168.50" x2="497.00" y2="168.50" stroke="#1a1a1a" stroke-width="1.1"/>
<text x="447.90" y="179.60" font-size="8.5" text-anchor="middle" font-weight="normal" fill="#111" textLength="69.5" lengthAdjust="spacingAndGlyphs" stroke="#111" stroke-width="0.22">2bF8LV-transduced</text>
<text x="447.90" y="189.60" font-size="8.5" text-anchor="middle" font-weight="normal" fill="#111" textLength="34.5" lengthAdjust="spacingAndGlyphs" stroke="#111" stroke-width="0.22">recipients</text>
<line x1="57.50" y1="251.10" x2="57.50" y2="262.50" stroke="#1a1a1a" stroke-width="1.15"/>
<line x1="57.50" y1="270.00" x2="57.50" y2="309.50" stroke="#1a1a1a" stroke-width="1.15"/>
<line x1="57.50" y1="316.20" x2="57.50" y2="323.50" stroke="#1a1a1a" stroke-width="1.15"/>
<line x1="57.00" y1="323.50" x2="186.50" y2="323.50" stroke="#1a1a1a" stroke-width="1.15"/>
<line x1="54.50" y1="254.50" x2="57.50" y2="254.50" stroke="#1a1a1a" stroke-width="1"/>
<text x="51.30" y="257.10" font-size="8.6" text-anchor="end" font-weight="normal" fill="#111" stroke="#111" stroke-width="0.22">2000</text>
<text x="51.30" y="263.70" font-size="8.6" text-anchor="end" font-weight="normal" fill="#111" stroke="#111" stroke-width="0.22">1900</text>
<line x1="54.50" y1="272.50" x2="57.50" y2="272.50" stroke="#1a1a1a" stroke-width="1"/>
<text x="51.30" y="275.00" font-size="8.6" text-anchor="end" font-weight="normal" fill="#111" stroke="#111" stroke-width="0.22">670</text>
<line x1="54.50" y1="278.50" x2="57.50" y2="278.50" stroke="#1a1a1a" stroke-width="1"/>
<text x="51.30" y="281.20" font-size="8.6" text-anchor="end" font-weight="normal" fill="#111" stroke="#111" stroke-width="0.22">570</text>
<line x1="54.50" y1="284.50" x2="57.50" y2="284.50" stroke="#1a1a1a" stroke-width="1"/>
<text x="51.30" y="287.30" font-size="8.6" text-anchor="end" font-weight="normal" fill="#111" stroke="#111" stroke-width="0.22">470</text>
<line x1="54.50" y1="290.50" x2="57.50" y2="290.50" stroke="#1a1a1a" stroke-width="1"/>
<text x="51.30" y="293.40" font-size="8.6" text-anchor="end" font-weight="normal" fill="#111" stroke="#111" stroke-width="0.22">370</text>
<line x1="54.50" y1="296.50" x2="57.50" y2="296.50" stroke="#1a1a1a" stroke-width="1"/>
<text x="51.30" y="299.60" font-size="8.6" text-anchor="end" font-weight="normal" fill="#111" stroke="#111" stroke-width="0.22">270</text>
<line x1="54.50" y1="303.50" x2="57.50" y2="303.50" stroke="#1a1a1a" stroke-width="1"/>
<text x="51.30" y="306.00" font-size="8.6" text-anchor="end" font-weight="normal" fill="#111" stroke="#111" stroke-width="0.22">170</text>
<text x="51.30" y="312.80" font-size="8.6" text-anchor="end" font-weight="normal" fill="#111" stroke="#111" stroke-width="0.22">70</text>
<text x="51.30" y="320.40" font-size="8.6" text-anchor="end" font-weight="normal" fill="#111" stroke="#111" stroke-width="0.22">15</text>
<text x="51.30" y="326.00" font-size="8.6" text-anchor="end" font-weight="normal" fill="#111" stroke="#111" stroke-width="0.22">0</text>
<line x1="55.20" y1="260.70" x2="60.00" y2="265.40" stroke="#1a1a1a" stroke-width="1"/>
<line x1="55.20" y1="267.20" x2="60.00" y2="272.00" stroke="#1a1a1a" stroke-width="1"/>
<line x1="55.20" y1="307.40" x2="60.00" y2="311.70" stroke="#1a1a1a" stroke-width="1"/>
<line x1="55.20" y1="313.90" x2="60.00" y2="318.30" stroke="#1a1a1a" stroke-width="1"/>
<text transform="translate(14.80,287.00) rotate(-90)" font-size="9.6" text-anchor="middle" font-weight="normal" fill="#111" textLength="55" lengthAdjust="spacingAndGlyphs" stroke="#111" stroke-width="0.45">Anti-FVIII inhibitor</text>
<text transform="translate(25.20,286.50) rotate(-90)" font-size="9.6" text-anchor="middle" font-weight="normal" fill="#111" textLength="36.3" lengthAdjust="spacingAndGlyphs" stroke="#111" stroke-width="0.45">titer(BU/ml)</text>
<path d="M81.50,247.30V242.30H165.40V247.30" fill="none" stroke="#2a2a2a" stroke-width="1.1"/>
<circle cx="126.00" cy="238.40" r="1.12" fill="#1a1a1a"/>
<circle cx="128.90" cy="238.40" r="1.12" fill="#1a1a1a"/>
<circle cx="131.80" cy="238.40" r="1.12" fill="#1a1a1a"/>
<path d="M122.50,311.30V307.30H164.40V311.30" fill="none" stroke="#2a2a2a" stroke-width="1.1"/>
<text x="143.60" y="304.60" font-size="8.3" text-anchor="middle" font-weight="normal" fill="#111" stroke="#111" stroke-width="0.12">ns</text>
<polygon points="83.10,251.80 85.80,254.50 83.10,257.20 80.40,254.50" fill="none" stroke="#e0902a" stroke-width="1.15"/>
<polygon points="83.10,267.60 85.80,270.30 83.10,273.00 80.40,270.30" fill="none" stroke="#e0902a" stroke-width="1.15"/>
<polygon points="79.30,280.30 82.00,283.00 79.30,285.70 76.60,283.00" fill="none" stroke="#e0902a" stroke-width="1.15"/>
<polygon points="87.10,281.30 89.80,284.00 87.10,286.70 84.40,284.00" fill="none" stroke="#e0902a" stroke-width="1.15"/>
<polygon points="75.50,291.30 78.20,294.00 75.50,296.70 72.80,294.00" fill="none" stroke="#e0902a" stroke-width="1.15"/>
<polygon points="94.70,293.30 97.40,296.00 94.70,298.70 92.00,296.00" fill="none" stroke="#e0902a" stroke-width="1.15"/>
<polygon points="75.50,300.90 78.20,303.60 75.50,306.30 72.80,303.60" fill="none" stroke="#e0902a" stroke-width="1.15"/>
<polygon points="83.10,298.40 85.80,301.10 83.10,303.80 80.40,301.10" fill="none" stroke="#e0902a" stroke-width="1.15"/>
<polygon points="90.90,299.90 93.60,302.60 90.90,305.30 88.20,302.60" fill="none" stroke="#e0902a" stroke-width="1.15"/>
<polygon points="83.10,306.20 85.80,308.90 83.10,311.60 80.40,308.90" fill="none" stroke="#e0902a" stroke-width="1.15"/>
<polygon points="79.30,320.30 82.00,323.00 79.30,325.70 76.60,323.00" fill="none" stroke="#e0902a" stroke-width="1.15"/>
<polygon points="87.10,317.80 89.80,320.50 87.10,323.20 84.40,320.50" fill="none" stroke="#e0902a" stroke-width="1.15"/>
<line x1="70.20" y1="288.50" x2="95.70" y2="288.50" stroke="#e0902a" stroke-width="1.2"/>
<line x1="83.50" y1="323.20" x2="83.50" y2="326.50" stroke="#1a1a1a" stroke-width="1"/>
<line x1="122.50" y1="323.20" x2="122.50" y2="326.50" stroke="#1a1a1a" stroke-width="1"/>
<line x1="160.50" y1="323.20" x2="160.50" y2="326.50" stroke="#1a1a1a" stroke-width="1"/>
<polygon points="112.60,320.01 115.00,324.33 110.20,324.33" fill="none" stroke="#213f80" stroke-width="0.9"/>
<polygon points="117.20,320.01 119.60,324.33 114.80,324.33" fill="none" stroke="#213f80" stroke-width="0.9"/>
<polygon points="121.80,320.01 124.20,324.33 119.40,324.33" fill="none" stroke="#213f80" stroke-width="0.9"/>
<polygon points="126.40,320.01 128.80,324.33 124.00,324.33" fill="none" stroke="#213f80" stroke-width="0.9"/>
<polygon points="131.00,320.01 133.40,324.33 128.60,324.33" fill="none" stroke="#213f80" stroke-width="0.9"/>
<polygon points="114.90,321.42 117.20,325.56 112.60,325.56" fill="none" stroke="#213f80" stroke-width="0.9"/>
<polygon points="119.30,321.42 121.60,325.56 117.00,325.56" fill="none" stroke="#213f80" stroke-width="0.9"/>
<polygon points="123.70,321.42 126.00,325.56 121.40,325.56" fill="none" stroke="#213f80" stroke-width="0.9"/>
<polygon points="128.10,321.42 130.40,325.56 125.80,325.56" fill="none" stroke="#213f80" stroke-width="0.9"/>
<polygon points="132.50,321.42 134.80,325.56 130.20,325.56" fill="none" stroke="#213f80" stroke-width="0.9"/>
<line x1="110.50" y1="325.60" x2="133.60" y2="325.60" stroke="#213f80" stroke-width="0.9"/>
<polygon points="151.20,321.02 153.50,325.16 148.90,325.16" fill="#213f80"/>
<polygon points="153.70,321.02 156.00,325.16 151.40,325.16" fill="#213f80"/>
<polygon points="156.20,321.02 158.50,325.16 153.90,325.16" fill="#213f80"/>
<polygon points="158.70,321.02 161.00,325.16 156.40,325.16" fill="#213f80"/>
<polygon points="161.20,321.02 163.50,325.16 158.90,325.16" fill="#213f80"/>
<polygon points="163.70,321.02 166.00,325.16 161.40,325.16" fill="#213f80"/>
<polygon points="166.20,321.02 168.50,325.16 163.90,325.16" fill="#213f80"/>
<polygon points="168.70,321.02 171.00,325.16 166.40,325.16" fill="#213f80"/>
<polygon points="171.20,321.02 173.50,325.16 168.90,325.16" fill="#213f80"/>
<rect x="149.2" y="323.3" width="22.3" height="2.8" fill="#213f80"/>
<polygon points="164.00,314.61 166.40,318.93 161.60,318.93" fill="#213f80"/>
<text transform="translate(86.60,331.30) rotate(-45)" font-size="7.4" text-anchor="end" font-weight="normal" fill="#111" stroke="#111" stroke-width="0.22">Post-imm.</text>
<text transform="translate(125.60,331.30) rotate(-45)" font-size="7.4" text-anchor="end" font-weight="normal" fill="#111" stroke="#111" stroke-width="0.22">Pre-imm.</text>
<text transform="translate(163.60,331.30) rotate(-45)" font-size="7.4" text-anchor="end" font-weight="normal" fill="#111" stroke="#111" stroke-width="0.22">Post-imm.</text>
<line x1="52.30" y1="359.50" x2="63.30" y2="359.50" stroke="#1a1a1a" stroke-width="1.1"/>
<text x="46.20" y="369.70" font-size="8.2" text-anchor="start" font-weight="normal" fill="#111" stroke="#111" stroke-width="0.22">FVIII<tspan font-size="4.6" dy="-2.6" stroke-width="0.05" fill="#555">null</tspan></text>
<line x1="91.80" y1="359.50" x2="141.50" y2="359.50" stroke="#1a1a1a" stroke-width="1.1"/>
<text x="116.60" y="369.80" font-size="8.5" text-anchor="middle" font-weight="normal" fill="#111" textLength="50" lengthAdjust="spacingAndGlyphs" stroke="#111" stroke-width="0.22">ADC/2bF8LV-</text>
<text x="116.50" y="380.00" font-size="8.5" text-anchor="middle" font-weight="normal" fill="#111" textLength="40" lengthAdjust="spacingAndGlyphs" stroke="#111" stroke-width="0.22">transduced</text>
<text x="116.30" y="390.50" font-size="8.5" text-anchor="middle" font-weight="normal" fill="#111" textLength="34" lengthAdjust="spacingAndGlyphs" stroke="#111" stroke-width="0.22">recipients</text>
<rect x="273.5" y="255.9" width="29" height="66.99999999999997" fill="#dc8b1c"/>
<rect x="317.5" y="306.15" width="29" height="16.75" fill="#2c4a80" stroke="#1f3a6e" stroke-width="0.6"/>
<line x1="257.50" y1="252.40" x2="257.50" y2="323.40" stroke="#1a1a1a" stroke-width="1.15"/>
<line x1="257.40" y1="322.50" x2="361.60" y2="322.50" stroke="#1a1a1a" stroke-width="1.15"/>
<line x1="254.90" y1="322.50" x2="257.90" y2="322.50" stroke="#1a1a1a" stroke-width="1"/>
<text x="252.10" y="325.90" font-size="8.2" text-anchor="end" font-weight="normal" fill="#111" stroke="#111" stroke-width="0.22">0</text>
<line x1="254.90" y1="306.50" x2="257.90" y2="306.50" stroke="#1a1a1a" stroke-width="1"/>
<text x="252.10" y="309.15" font-size="8.2" text-anchor="end" font-weight="normal" fill="#111" stroke="#111" stroke-width="0.22">25</text>
<line x1="254.90" y1="289.50" x2="257.90" y2="289.50" stroke="#1a1a1a" stroke-width="1"/>
<text x="252.10" y="292.40" font-size="8.2" text-anchor="end" font-weight="normal" fill="#111" stroke="#111" stroke-width="0.22">50</text>
<line x1="254.90" y1="272.50" x2="257.90" y2="272.50" stroke="#1a1a1a" stroke-width="1"/>
<text x="252.10" y="275.65" font-size="8.2" text-anchor="end" font-weight="normal" fill="#111" stroke="#111" stroke-width="0.22">75</text>
<line x1="254.90" y1="255.50" x2="257.90" y2="255.50" stroke="#1a1a1a" stroke-width="1"/>
<text x="252.10" y="258.90" font-size="8.2" text-anchor="end" font-weight="normal" fill="#111" stroke="#111" stroke-width="0.22">100</text>
<line x1="288.50" y1="322.90" x2="288.50" y2="325.90" stroke="#1a1a1a" stroke-width="1"/>
<line x1="331.50" y1="322.90" x2="331.50" y2="325.90" stroke="#1a1a1a" stroke-width="1"/>
<path d="M287.30,251.10V242.20H331.00V251.10" fill="none" stroke="#2a2a2a" stroke-width="1.1"/>
<circle cx="307.35" cy="238.30" r="1.12" fill="#1a1a1a"/>
<circle cx="310.25" cy="238.30" r="1.12" fill="#1a1a1a"/>
<text transform="translate(210.80,287.40) rotate(-90)" font-size="9.4" text-anchor="middle" font-weight="normal" fill="#111" textLength="63.5" lengthAdjust="spacingAndGlyphs" stroke="#111" stroke-width="0.32">Incidence of inhibitor</text>
<text transform="translate(221.00,288.00) rotate(-90)" font-size="9.4" text-anchor="middle" font-weight="normal" fill="#111" textLength="54.5" lengthAdjust="spacingAndGlyphs" stroke="#111" stroke-width="0.32">development after</text>
<text transform="translate(231.80,287.40) rotate(-90)" font-size="9.4" text-anchor="middle" font-weight="normal" fill="#111" textLength="81.3" lengthAdjust="spacingAndGlyphs" stroke="#111" stroke-width="0.32">HD-rhF8 immunization (%)</text>
<text x="288.30" y="335.80" font-size="8.2" text-anchor="middle" font-weight="normal" fill="#111" stroke="#111" stroke-width="0.22">FVIII<tspan font-size="5.4" dy="-3.4" stroke-width="0.05" fill="#444">null</tspan></text>
<text x="288.20" y="345.80" font-size="8.2" text-anchor="middle" font-weight="normal" fill="#111" textLength="23.2" lengthAdjust="spacingAndGlyphs" stroke="#111" stroke-width="0.22">n = 12</text>
<text x="332.30" y="336.00" font-size="8.5" text-anchor="middle" font-weight="normal" fill="#111" textLength="51" lengthAdjust="spacingAndGlyphs" stroke="#111" stroke-width="0.22">ADC/2bF8LV-</text>
<text x="332.00" y="346.00" font-size="8.5" text-anchor="middle" font-weight="normal" fill="#111" textLength="40.5" lengthAdjust="spacingAndGlyphs" stroke="#111" stroke-width="0.22">transduced</text>
<text x="332.00" y="355.80" font-size="8.5" text-anchor="middle" font-weight="normal" fill="#111" textLength="34" lengthAdjust="spacingAndGlyphs" stroke="#111" stroke-width="0.22">recipients</text>
<text x="332.30" y="365.60" font-size="8.2" text-anchor="middle" font-weight="normal" fill="#111" stroke="#111" stroke-width="0.22">n = 8</text>
</svg>
<div id="border"></div>
</div>
</body></html>
